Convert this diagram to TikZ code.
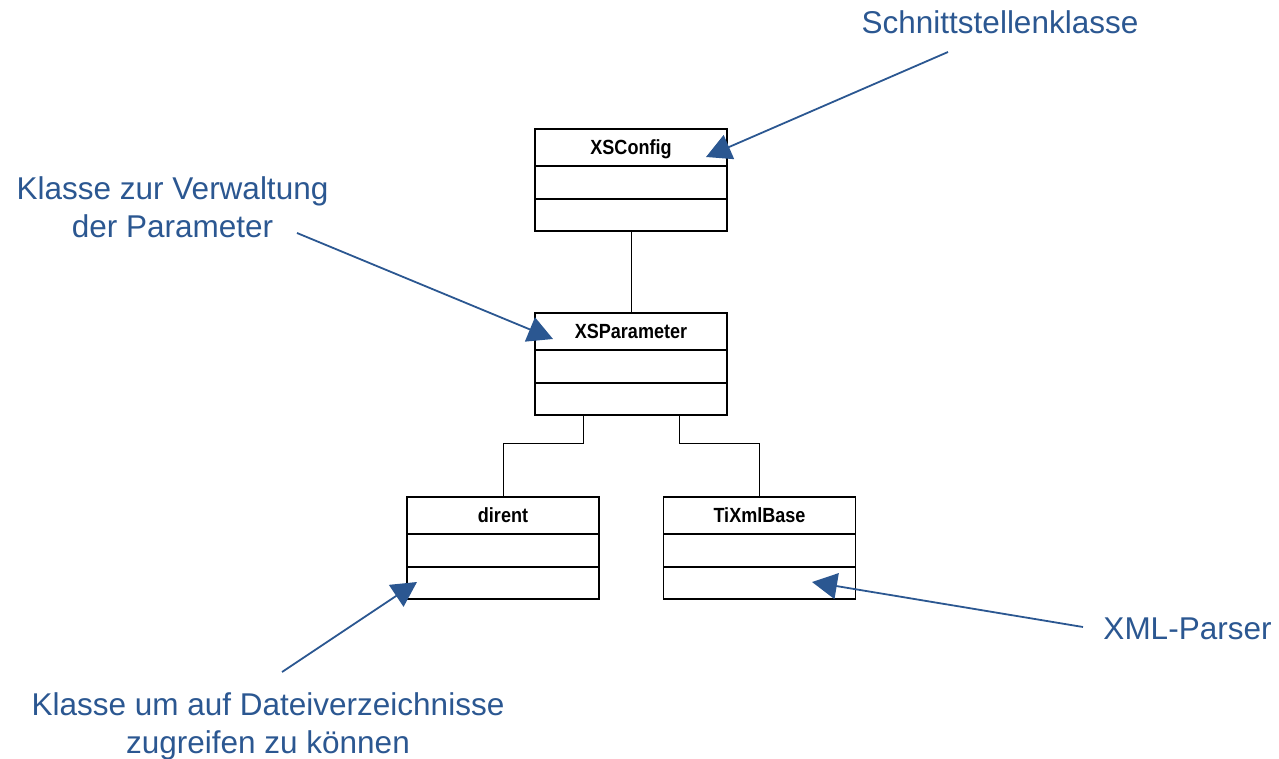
\documentclass[tikz,border=0pt]{standalone}
\usepackage{fontspec}
\setmainfont{Liberation Sans}
\newfontfamily\clsfont{Liberation Sans}[FakeStretch=0.88]
\usetikzlibrary{positioning,arrows.meta}

\definecolor{notiz}{RGB}{43,87,145}

\tikzset{
    clshead/.style={draw, line width=1.4pt, minimum width=192pt, minimum height=37pt, inner sep=0pt, outer sep=0pt,
        font=\clsfont\bfseries\fontsize{20.5}{24}\selectfont, text height=14.6pt, text depth=0pt},
    clsattr/.style={draw, line width=1.4pt, minimum width=192pt, minimum height=33pt, inner sep=0pt, outer sep=0pt},
    clsops/.style={draw, line width=1.4pt, minimum width=192pt, minimum height=32pt, inner sep=0pt, outer sep=0pt},
    verbindung/.style={draw, line width=0.9pt},
    notiztext/.style={text=notiz, inner sep=0pt, align=center, font=\fontsize{31.5}{38}\selectfont},
    notizpfeil/.style={draw=notiz, line width=1.8pt, -{Triangle[length=25pt,width=26pt]}}
}

\begin{document}
\begin{tikzpicture}[x=1pt,y=-1pt]

    \useasboundingbox (0,0) rectangle (1279,759);

    \node[clshead] (xsconfig) at (631,147.5) {XSConfig};
    \node[clsattr, below=0pt of xsconfig] (xsconfig-attr) {};
    \node[clsops, below=0pt of xsconfig-attr] (xsconfig-ops) {};

    \node[clshead] (xsparam) at (631,331.5) {XSParameter};
    \node[clsattr, below=0pt of xsparam] (xsparam-attr) {};
    \node[clsops, below=0pt of xsparam-attr] (xsparam-ops) {};

    \node[clshead] (dirent) at (503,515.5) {dirent};
    \node[clsattr, below=0pt of dirent] (dirent-attr) {};
    \node[clsops, below=0pt of dirent-attr] (dirent-ops) {};

    \node[clshead] (tixml) at (759.5,515.5) {TiXmlBase};
    \node[clsattr, below=0pt of tixml] (tixml-attr) {};
    \node[clsops, below=0pt of tixml-attr] (tixml-ops) {};


    \draw[verbindung] (xsconfig-ops.south) -- (xsparam.north);
    \draw[verbindung] ([xshift=-48pt]xsparam-ops.south) -- ++(0,28) -| (dirent.north);
    \draw[verbindung] ([xshift=48pt]xsparam-ops.south) -- ++(0,28) -| (tixml.north);


    \node[notiztext, anchor=base] (schnitt) at (1000,34) {Schnittstellenklasse};
    \node[notiztext, anchor=base] (verwalt) at (172.5,238) {Klasse zur Verwaltung\\der Parameter};
    \node[notiztext, anchor=base] (datei) at (268,753) {Klasse um auf Dateiverzeichnisse\\zugreifen zu können};
    \node[notiztext, anchor=base] (xmlparser) at (1187.5,639) {XML-Parser};

    \coordinate (s1) at (948,52);
    \coordinate (s2) at (297,233);
    \coordinate (s3) at (282,672);
    \coordinate (s4) at (1083,627);

    \coordinate (t1) at (706,157);
    \coordinate (t2) at (553,339);
    \coordinate (t3) at (417,582);
    \coordinate (t4) at (812,582);

    \draw[notizpfeil] (s1) -- (t1);
    \draw[notizpfeil] (s2) -- (t2);
    \draw[notizpfeil] (s3) -- (t3);
    \draw[notizpfeil] (s4) -- (t4);

\end{tikzpicture}
\end{document}
